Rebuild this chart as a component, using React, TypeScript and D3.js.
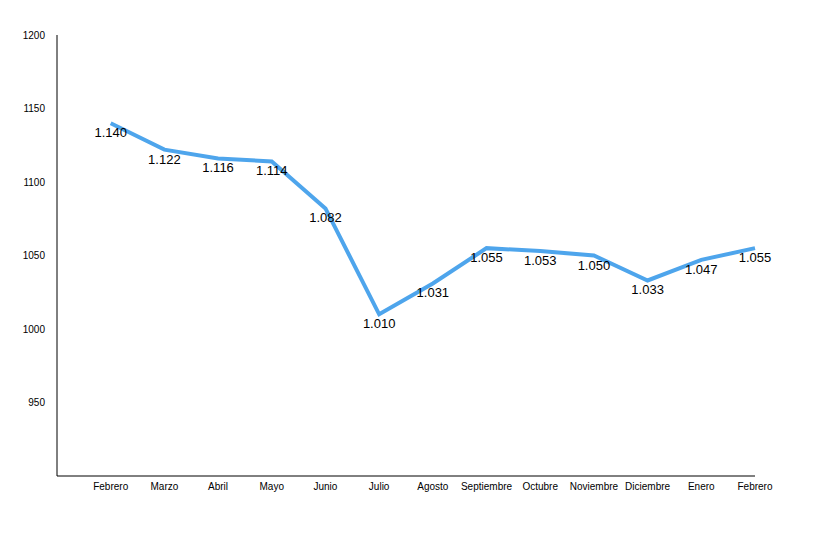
import React from "react";
import * as d3 from "d3";

const months = ["Febrero","Marzo","Abril","Mayo","Junio","Julio","Agosto","Septiembre","Octubre","Noviembre","Diciembre","Enero","Febrero"];
const values = [1140,1122,1116,1114,1082,1010,1031,1055,1053,1050,1033,1047,1055];
const yTicks = [950,1000,1050,1100,1150,1200];

const W = 817, H = 549;
const left = 57, right = 755, top = 35, bottom = 476;

export default function App() {
  const step = (right - left) / months.length;
  const x = (i: number) => left + step * (i + 1);
  const y = d3.scaleLinear().domain([900, 1200]).range([bottom, top]);
  const line = d3.line<number>().x((_, i) => x(i)).y(d => y(d));
  const fmt = (v: number) => d3.format(".3f")(v / 1000);
  return (
    <svg width={W} height={H} style={{ position: "absolute", left: 0, top: 0 }} fontFamily="'Liberation Sans', Arial, sans-serif">
      <line x1={left} x2={left} y1={top} y2={bottom} stroke="#000" strokeWidth={1} />
      <line x1={left} x2={right} y1={bottom} y2={bottom} stroke="#000" strokeWidth={1} />
      {yTicks.map(t => (
        <text key={t} x={45} y={y(t)} dy="0.35em" textAnchor="end" fontSize={10} fill="#000">{t}</text>
      ))}
      {months.map((m, i) => (
        <text key={i} x={x(i)} y={490} textAnchor="middle" fontSize={10} fill="#000">{m}</text>
      ))}
      <path d={line(values) || ""} fill="none" stroke="#4EA5EC" strokeWidth={4} strokeLinejoin="miter" />
      {values.map((v, i) => (
        <text key={i} x={x(i)} y={y(v) + 14} textAnchor="middle" fontSize={13} fill="#000">{fmt(v)}</text>
      ))}
    </svg>
  );
}
